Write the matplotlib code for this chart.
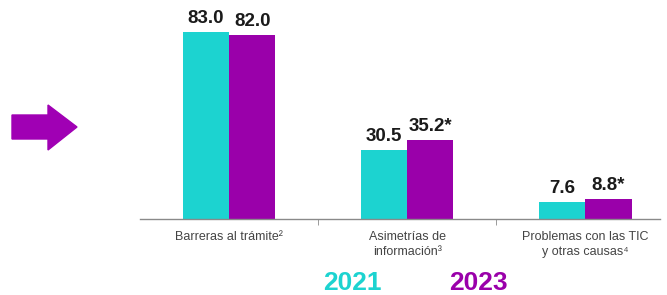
import numpy as np
import matplotlib
matplotlib.use("Agg")
import matplotlib.pyplot as plt
from matplotlib.patches import Polygon

plt.rcParams["font.family"] = ["Liberation Sans", "DejaVu Sans"]

categories = ["Barreras al trámite²", "Asimetrías de\ninformación³", "Problemas con las TIC\ny otras causas⁴"]
vals_2021 = [83.0, 30.5, 7.6]
vals_2023 = [82.0, 35.2, 8.8]
labels_2021 = ["83.0", "30.5", "7.6"]
labels_2023 = ["82.0", "35.2*", "8.8*"]
years = ["2021", "2023"]

c21 = "#1cd3d0"
c23 = "#9a00aa"

fig = plt.figure(figsize=(6.67, 2.95), dpi=100)
ax = fig.add_axes([140 / 667, 76 / 295, 520 / 667, 202.5 / 295])

x = np.arange(len(categories))
w = 0.26
ax.bar(x - w / 2, vals_2021, w, color=c21)
ax.bar(x + w / 2, vals_2023, w, color=c23)

for xi, v, t in zip(x, vals_2021, labels_2021):
    ax.text(xi - w / 2, v + 2.2, t, ha="center", va="bottom", fontsize=13.5, fontweight="bold", color="#1a1a1a")
for xi, v, t in zip(x, vals_2023, labels_2023):
    ax.text(xi + w / 2, v + 2.2, t, ha="center", va="bottom", fontsize=13.5, fontweight="bold", color="#1a1a1a")

ax.set_xlim(-0.5, 2.42)
ax.set_ylim(0, 90)
for s in ["top", "right", "left"]:
    ax.spines[s].set_visible(False)
ax.spines["bottom"].set_color("#8a8a8a")
ax.spines["bottom"].set_linewidth(1.0)
ax.set_yticks([])
ax.set_xticks(x)
ax.set_xticklabels(categories, fontsize=9, color="#444444", linespacing=1.3)
ax.tick_params(axis="x", which="major", length=0, pad=9)
ax.set_xticks([0.5, 1.5], minor=True)
ax.tick_params(axis="x", which="minor", length=4, color="#8a8a8a")

# year legend
fig.text(352 / 667, 1 - 283 / 295, years[0], ha="center", va="center", fontsize=19, fontweight="bold", color=c21)
fig.text(478 / 667, 1 - 283 / 295, years[1], ha="center", va="center", fontsize=19, fontweight="bold", color=c23)

# decorative arrow
pts = [(12, 115), (48, 115), (48, 105), (77, 127), (48, 150), (48, 139), (12, 139)]
arrow = Polygon([(px / 667, 1 - py / 295) for px, py in pts], closed=True,
                transform=fig.transFigure, color="#a000b4")
fig.patches.append(arrow)

fig.savefig("out.png", dpi=100)
